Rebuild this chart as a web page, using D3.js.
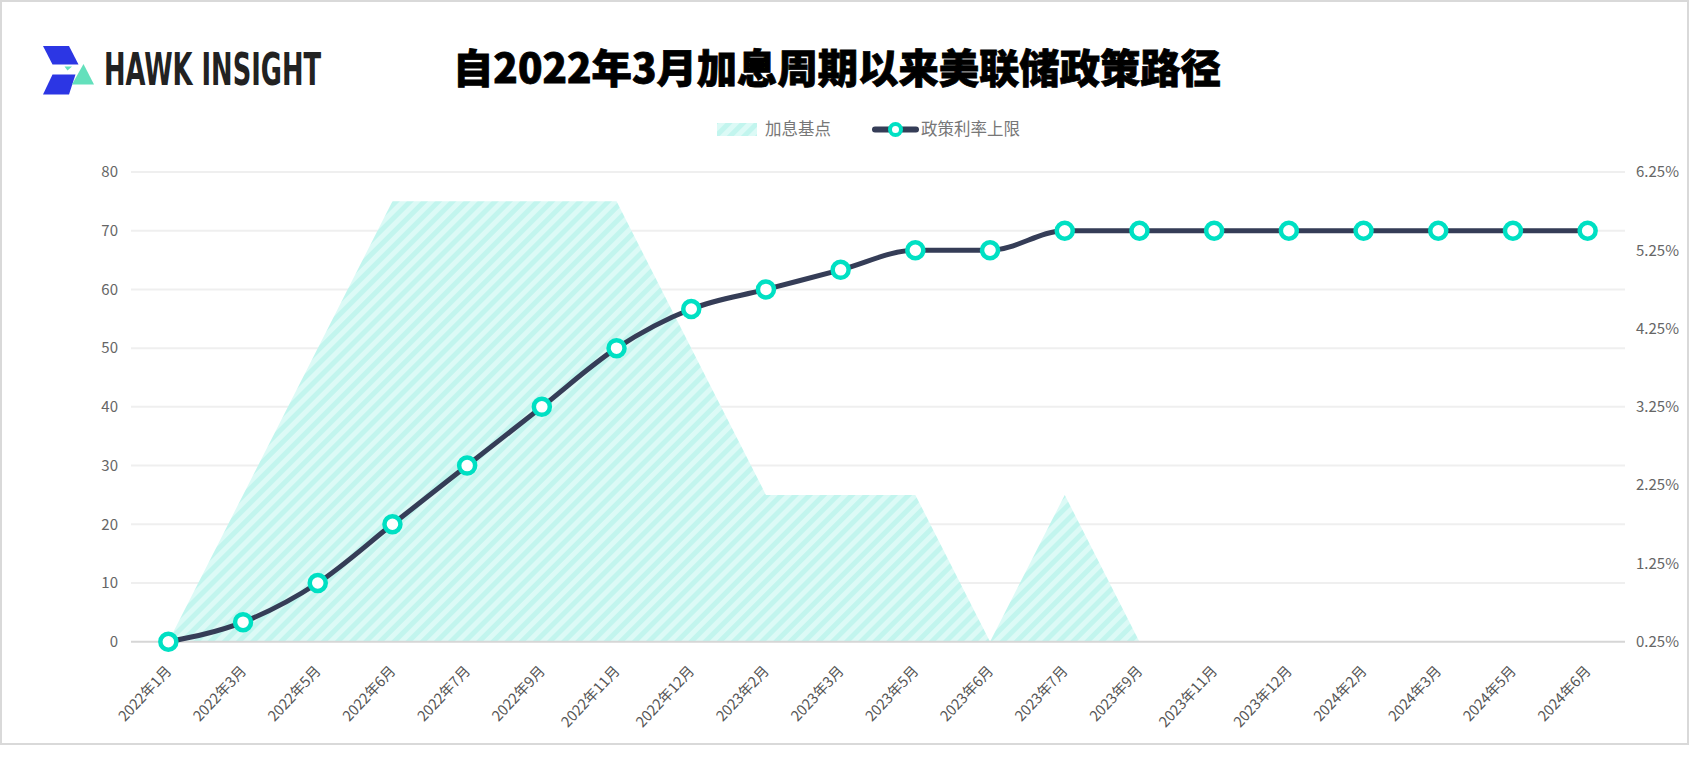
<!DOCTYPE html>
<html><head><meta charset="utf-8">
<script src="https://cdn.jsdelivr.net/npm/d3@7"></script>
<style>
html,body{margin:0;padding:0;background:#fff;}
svg{display:block;}
</style></head>
<body>
<svg id="chart" width="1690" height="757"></svg>
<script>
const categories = ['2022年1月','2022年3月','2022年5月','2022年6月','2022年7月','2022年9月','2022年11月','2022年12月','2023年2月','2023年3月','2023年5月','2023年6月','2023年7月','2023年9月','2023年11月','2023年12月','2024年2月','2024年3月','2024年5月','2024年6月'];
const hikeBp = [0,25,50,75,75,75,75,50,25,25,25,0,25,0,0,0,0,0,0,0];
const rateUpper = [0.25,0.5,1.0,1.75,2.5,3.25,4.0,4.5,4.75,5.0,5.25,5.25,5.5,5.5,5.5,5.5,5.5,5.5,5.5,5.5];
const leftTicks = [0,10,20,30,40,50,60,70,80];
const rightTicks = [0.25,1.25,2.25,3.25,4.25,5.25,6.25];
const titleText = '自2022年3月加息周期以来美联储政策路径';
const seriesNames = ['加息基点','政策利率上限'];

const svg = d3.select('#chart');
const FONT = '"Noto Sans CJK SC","Microsoft YaHei",sans-serif';

// frame
svg.append('rect').attr('x',1).attr('y',1).attr('width',1687).attr('height',743)
  .attr('fill','#fff').attr('stroke','#d9d9d9').attr('stroke-width',2);

// pattern
const defs = svg.append('defs');
const pat = defs.append('pattern').attr('id','stripes').attr('patternUnits','userSpaceOnUse')
  .attr('width',10).attr('height',10).attr('patternTransform','rotate(45)');
pat.append('rect').attr('width',10).attr('height',10).attr('fill','#dcfaf6');
pat.append('rect').attr('width',5).attr('height',10).attr('fill','#c2f5ee');

// logo
const logo = svg.append('g');
logo.append('polygon').attr('points','43,46 69,46 78.5,64.5 52.5,64.5').attr('fill','#2c36e4');
logo.append('polygon').attr('points','52.5,74.5 75.5,74.5 69,94.5 43,94.5').attr('fill','#2c36e4');
logo.append('polygon').attr('points','83.5,64 72,84.5 94,84.5').attr('fill','#63e0bc');
logo.append('polygon').attr('points','64.5,66.5 72,66.5 67.5,70.5').attr('fill','#63e0bc');
logo.append('text').attr('x',104).attr('y',84.5).text('HAWK INSIGHT')
  .attr('font-family','"DejaVu Sans Condensed","Liberation Sans Narrow",sans-serif')
  .attr('font-weight','bold').attr('font-size',44).attr('fill','#222')
  .attr('textLength',217).attr('lengthAdjust','spacingAndGlyphs');

// title
svg.append('text').attr('x',837).attr('y',83).attr('text-anchor','middle')
  .attr('font-family',FONT).attr('font-weight',900).attr('font-size',40)
  .attr('fill','#000').attr('stroke','#000').attr('stroke-width',0.8)
  .attr('textLength',768).attr('lengthAdjust','spacingAndGlyphs')
  .text(titleText);

// scales
const x = d3.scaleBand().domain(categories).range([131,1625]);
const xc = d => x(d) + x.bandwidth()/2;
const yL = d3.scaleLinear().domain([0,80]).range([641.7,172]);
const yR = d3.scaleLinear().domain([0.25,6.25]).range([641.7,172]);

// grid
svg.append('g').selectAll('line').data(leftTicks.filter(d=>d>0)).join('line')
  .attr('x1',131).attr('x2',1625).attr('y1',d=>yL(d)).attr('y2',d=>yL(d))
  .attr('stroke','#efefef').attr('stroke-width',2);

// left axis
const axL = d3.axisLeft(yL).tickValues(leftTicks).tickSize(0).tickPadding(13);
const gL = svg.append('g').attr('transform','translate(131,0)').call(axL);
gL.select('.domain').remove();
gL.selectAll('text').attr('font-family',FONT).attr('font-size',15).attr('fill','#666');

// right axis
const axR = d3.axisRight(yR).tickValues(rightTicks).tickSize(0).tickPadding(11).tickFormat(d=>d.toFixed(2)+'%');
const gR = svg.append('g').attr('transform','translate(1625,0)').call(axR);
gR.select('.domain').remove();
gR.selectAll('text').attr('font-family',FONT).attr('font-size',15).attr('fill','#666');

// area
const area = d3.area().x((d,i)=>xc(categories[i])).y0(yL(0)).y1(d=>yL(d));
svg.append('path').datum(hikeBp).attr('d',area).attr('fill','url(#stripes)');

// x axis line
svg.append('line').attr('x1',131).attr('x2',1625).attr('y1',yL(0)).attr('y2',yL(0))
  .attr('stroke','#d6d6d6').attr('stroke-width',2);

// x labels
const axX = d3.axisBottom(x).tickSize(0).tickPadding(0);
const gX = svg.append('g').attr('transform',`translate(0,${yL(0)})`).call(axX);
gX.select('.domain').remove();
gX.selectAll('text').attr('font-family',FONT).attr('font-size',14.5).attr('fill','#555')
  .attr('text-anchor','end').attr('dy',0)
  .attr('transform','translate(4,30) rotate(-47)');

// line
const line = d3.line().x((d,i)=>xc(categories[i])).y(d=>yR(d)).curve(d3.curveMonotoneX);
svg.append('path').datum(rateUpper).attr('d',line).attr('fill','none')
  .attr('stroke','#353d57').attr('stroke-width',5).attr('stroke-linejoin','round');
svg.append('g').selectAll('circle').data(rateUpper).join('circle')
  .attr('cx',(d,i)=>xc(categories[i])).attr('cy',d=>yR(d)).attr('r',8)
  .attr('fill','#fff').attr('stroke','#00e0c3').attr('stroke-width',4.5);

// legend
const lg = svg.append('g');
lg.append('rect').attr('x',717).attr('y',123).attr('width',40).attr('height',13).attr('fill','url(#stripes)');
lg.append('text').attr('x',765).attr('y',135).text(seriesNames[0])
  .attr('font-family',FONT).attr('font-size',16.5).attr('fill','#777');
lg.append('line').attr('x1',875).attr('x2',916).attr('y1',129.5).attr('y2',129.5)
  .attr('stroke','#353d57').attr('stroke-width',6).attr('stroke-linecap','round');
lg.append('circle').attr('cx',895.5).attr('cy',129.5).attr('r',5.5)
  .attr('fill','#fff').attr('stroke','#00e0c3').attr('stroke-width',4);
lg.append('text').attr('x',921).attr('y',135).text(seriesNames[1])
  .attr('font-family',FONT).attr('font-size',16.5).attr('fill','#777');
</script>
</body></html>
